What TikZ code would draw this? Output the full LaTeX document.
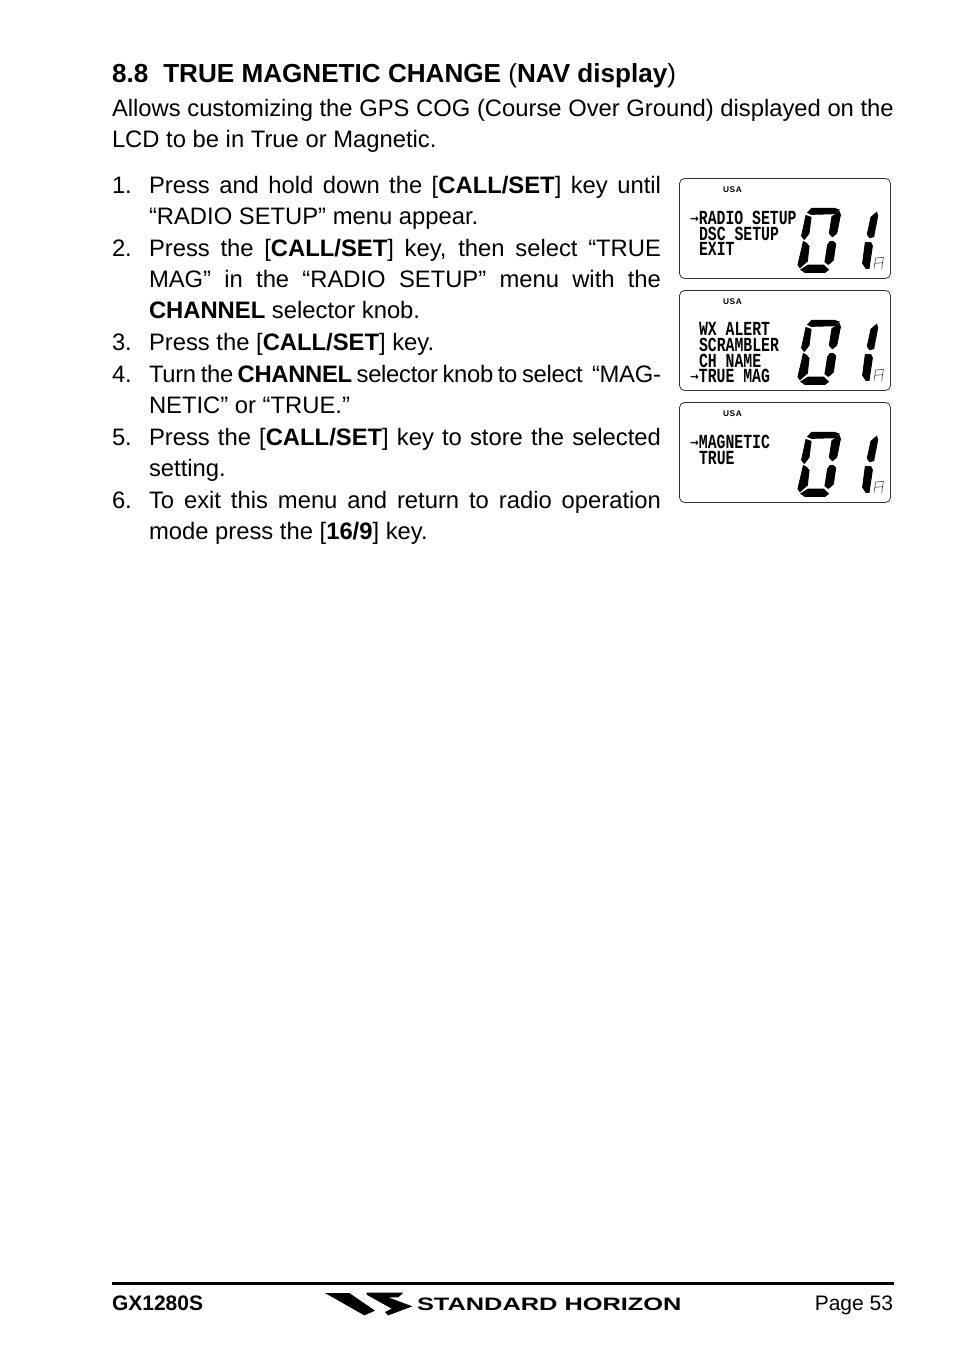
\documentclass[tikz,border=0pt]{standalone}
\usepackage{fontspec}
\usepackage{xcolor}
\setmainfont{Liberation Sans}
\newfontfamily\lcdfont[FakeStretch=0.74]{Liberation Mono}
\newfontfamily\logofont[FakeStretch=1.41]{Liberation Sans}
\newfontfamily\usafont[LetterSpace=8]{Liberation Sans}
\newfontfamily\arrowfont{DejaVu Sans}
\newcommand{\ckey}[1]{[\textbf{#1}]}
\newcommand{\fullline}[1]{\hbox to 512pt{#1}}
\newcommand{\lcdarrow}{\makebox[8.9pt][l]{\raisebox{2pt}{\fontsize{10.5}{11}\arrowfont\bfseries →}}}
\tikzset{
  txt/.style={anchor=base west, inner sep=0pt, outer sep=0pt},
  body/.style={txt, font=\fontsize{23.8}{30}\selectfont},
  lcdline/.style={txt, font=\fontsize{20}{16}\lcdfont\bfseries},
  seg/.style={fill=black, draw=black, line width=1pt},
  lcdpanel/.pic={
    \draw[line width=0.8pt, black!80, fill=white, rounded corners=5pt] (0,0) rectangle (211,100);
    \node[txt, font=\fontsize{8.3}{9}\usafont\bfseries] at (43.5,14) {USA};
    \begin{scope}[shift={(115.5,21.5)}, xscale=1/3, yscale=1/3]
      % digit zero
      \path[seg] (38,38) -- (50,25) -- (118,25) -- (132,30) -- (120,41) -- (50,43) -- cycle;
      \path[seg] (33,47) -- (48,52) -- (42,100) -- (28,118) -- (20,108) -- cycle;
      \path[seg] (133,35) -- (136,45) -- (125,100) -- (112,110) -- (103,100) -- (111,50) -- cycle;
      \path[seg] (25,125) -- (35,130) -- (42,140) -- (37,183) -- (15,203) -- (9,195) -- cycle;
      \path[seg] (105,125) -- (115,125) -- (122,132) -- (115,180) -- (100,193) -- (90,185) -- (98,135) -- cycle;
      \path[seg] (18,209) -- (40,195) -- (85,195) -- (100,209) -- (90,217) -- (30,217) -- cycle;
      % digit one
      \path[seg] (245,37) -- (248,47) -- (236,110) -- (224,113) -- (217,103) -- (228,52) -- cycle;
      \path[seg] (211,128) -- (227,128) -- (232,138) -- (222,205) -- (213,205) -- (203,190) -- cycle;
      % small channel letter
      \draw[line width=0.6pt, black!70] (237,206) -- (242,174) -- (265,172) -- (260,208) (240,190) -- (263,188);
    \end{scope}
  }
}
\begin{document}
\begin{tikzpicture}[x=1pt, y=-1pt]
  \useasboundingbox[fill=white] (0,0) rectangle (954,1357);

  % --- Heading and intro ---
  \node[txt, font=\fontsize{26.1}{30}\selectfont\bfseries] (head) at (112,82)
    {8.8\hspace{15pt}TRUE MAGNETIC CHANGE {\mdseries(}NAV display{\mdseries)}};
  \node[body] (introa) at (112,116) {Allows customizing the GPS COG (Course Over Ground) displayed on the};
  \node[body] (introb) at (112,147) {LCD to be in True or Magnetic.};

  % --- Numbered steps ---
  \foreach \num/\ypos in {1/193, 2/256, 3/350, 4/382, 5/445, 6/508}
    \node[body] (num\num) at (112,\ypos) {\num.};
  \node[body] (stepa) at (149,193) {\fullline{Press and hold down the \ckey{CALL/SET} key until}};
  \node[body] (stepb) at (149,224) {“RADIO SETUP” menu appear.};
  \node[body] (stepc) at (149,256) {\fullline{Press the \ckey{CALL/SET} key, then select “TRUE}};
  \node[body] (stepd) at (149,287) {\fullline{MAG” in the “RADIO SETUP” menu with the}};
  \node[body] (stepe) at (149,318) {\textbf{CHANNEL} selector knob.};
  \node[body] (stepf) at (149,350) {Press the \ckey{CALL/SET} key.};
  \node[body] (stepg) at (149,382) {\fullline{\addfontfeature{LetterSpace=-1.2}Turn the \textbf{CHANNEL} selector knob to select \ “MAG-}};
  \node[body] (steph) at (149,413) {NETIC” or “TRUE.”};
  \node[body] (stepi) at (149,445) {\fullline{Press the \ckey{CALL/SET} key to store the selected}};
  \node[body] (stepj) at (149,476) {setting.};
  \node[body] (stepk) at (149,508) {\fullline{To exit this menu and return to radio operation}};
  \node[body] (stepl) at (149,539) {mode press the \ckey{16/9} key.};

  % --- LCD panels ---
  \pic at (679.5,178.5) {lcdpanel};
  \pic at (679.5,290.5) {lcdpanel};
  \pic at (679.5,402.5) {lcdpanel};
  \node[lcdline] (lcda) at (690,224) {\lcdarrow RADIO SETUP};
  \node[lcdline] (lcdb) at (699,240) {DSC SETUP};
  \node[lcdline] (lcdc) at (699,255) {EXIT};
  \node[lcdline] (lcdd) at (699,335) {WX ALERT};
  \node[lcdline] (lcde) at (699,351) {SCRAMBLER};
  \node[lcdline] (lcdf) at (699,367) {CH NAME};
  \node[lcdline] (lcdg) at (690,382) {\lcdarrow TRUE MAG};
  \node[lcdline] (lcdh) at (690,448) {\lcdarrow MAGNETIC};
  \node[lcdline] (lcdi) at (699,464) {TRUE};

  % --- Footer ---
  \draw[line width=2.4pt] (112,1283.5) -- (894,1283.5);
  \node[txt, font=\fontsize{21}{24}\selectfont\bfseries] (model) at (112,1310) {GX1280S};
  \node[txt, anchor=base east, font=\fontsize{21}{24}\selectfont] (page) at (893,1310) {Page 53};
  \begin{scope}[shift={(320,1288)}, xscale=1/3, yscale=1/3]
    \fill (15,15) -- (88,15) -- (165,68) -- (133,82) -- cycle;
    \fill (140,14) -- (250,14) -- (235,28) -- (205,28) -- (277,55) -- (205,82) -- (195,72) -- (215,62) -- (140,20) -- cycle;
  \end{scope}
  \node[txt, font=\fontsize{18}{20}\logofont\bfseries] (brand) at (417,1310) {STANDARD HORIZON};
\end{tikzpicture}
\end{document}
